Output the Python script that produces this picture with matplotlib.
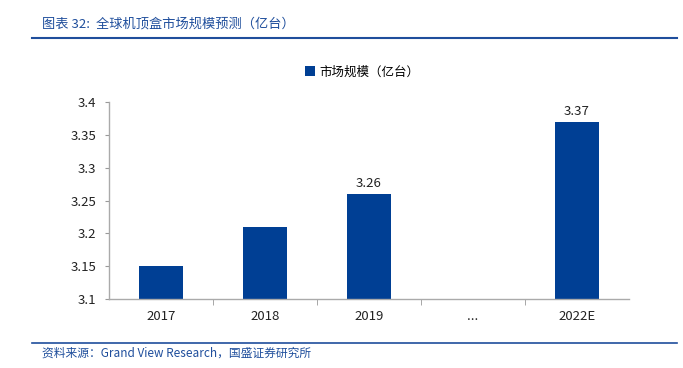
import matplotlib.pyplot as plt
import numpy as np

plt.rcParams['font.family'] = ['Noto Sans CJK SC', 'DejaVu Sans']

# data
categories = ['2017', '2018', '2019', '...', '2022E']
values = [3.15, 3.21, 3.26, np.nan, 3.37]
labelled = [False, False, True, False, True]

bar_color = '#003F94'
line_color = '#1F4E9C'

fig = plt.figure(figsize=(6.83, 3.68), dpi=100)
ax = fig.add_axes([109 / 683, 1 - 299 / 368, 520 / 683, 197 / 368])

x = np.arange(len(categories))
ax.bar(x, values, width=0.42, color=bar_color, bottom=0, label='市场规模（亿台）', zorder=2)
for xi, v, show in zip(x, values, labelled):
    if show:
        ax.text(xi, v + 0.006, f'{v:.2f}', ha='center', va='bottom', fontsize=9.5, color='#222222')

ax.set_ylim(3.1, 3.4)
ax.set_xlim(-0.5, len(categories) - 0.5)
ax.set_yticks(np.arange(3.1, 3.401, 0.05))
ax.set_yticklabels(['3.1', '3.15', '3.2', '3.25', '3.3', '3.35', '3.4'])
ax.set_xticks(x)
ax.set_xticklabels(categories)
ax.set_xticks(np.arange(0.5, len(categories) - 0.5, 1), minor=True)
ax.tick_params(axis='x', which='major', length=0, pad=8, labelsize=9.5, colors='#222222')
ax.tick_params(axis='x', which='minor', length=4, color='#999999', direction='out')
ax.tick_params(axis='y', length=3, color='#999999', labelsize=9.5, pad=6, colors='#222222')
ax.tick_params(axis='y', colors='#999999', labelcolor='#222222')
for s in ['top', 'right']:
    ax.spines[s].set_visible(False)
for s in ['left', 'bottom']:
    ax.spines[s].set_color('#AAAAAA')
    ax.spines[s].set_linewidth(1)

leg = fig.legend(loc='center', bbox_to_anchor=(362 / 683, 1 - 72 / 368), frameon=False,
                 fontsize=9, handlelength=0.8, handleheight=0.8, handletextpad=0.3)

# header and footer
fig.text(42 / 683, 1 - 24 / 368, '图表 32:  全球机顶盒市场规模预测（亿台）', fontsize=9.5,
         color=line_color, style='italic', va='center', ha='left')
fig.add_artist(plt.Line2D([32 / 683, 677 / 683], [1 - 38 / 368] * 2, color=line_color, lw=1.5))
fig.add_artist(plt.Line2D([32 / 683, 677 / 683], [1 - 343 / 368] * 2, color=line_color, lw=1.2))
fig.text(42 / 683, 1 - 353 / 368, '资料来源：Grand View Research，国盛证券研究所', fontsize=8.5,
         color=line_color, style='italic', va='center', ha='left')

fig.savefig('out.png', dpi=100)
